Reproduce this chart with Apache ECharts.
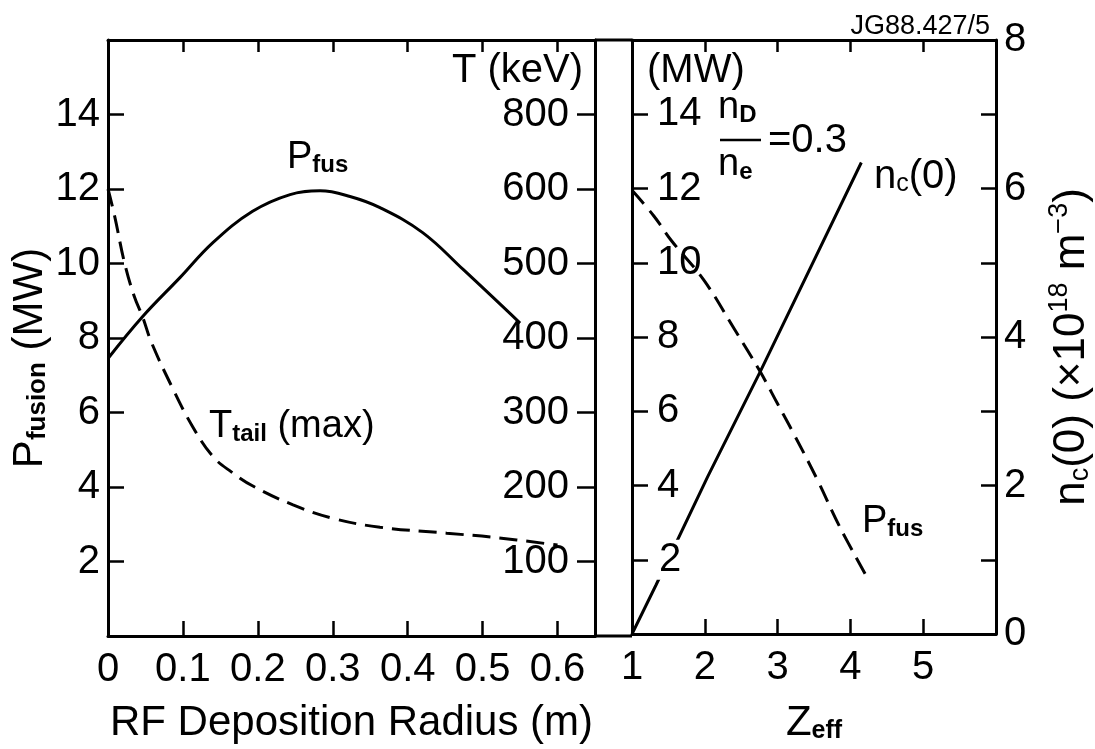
<!DOCTYPE html>
<html><head><meta charset="utf-8">
<script src="https://cdn.jsdelivr.net/npm/echarts@6/dist/echarts.min.js"></script>
<style>html,body{margin:0;padding:0;background:#fff}#c{width:1095px;height:749px}</style>
</head><body><div id="c"></div>
<script>
// ---------- data ----------
// Left panel: P_fusion (MW) vs RF deposition radius (m)
const RADIUS_PFUS = [0, 0.046, 0.096, 0.14, 0.193, 0.243, 0.283, 0.323, 0.363, 0.42, 0.474, 0.55];
const PFUS_VS_RADIUS = [7.45, 8.57, 9.62, 10.56, 11.4, 11.85, 11.95, 11.8, 11.5, 10.83, 9.84, 8.4];
// Left panel: T_tail (max) (keV) vs RF deposition radius (m)
const RADIUS_TTAIL = [0, 0.009, 0.022, 0.035, 0.046, 0.058, 0.087, 0.113, 0.14, 0.165, 0.194, 0.247, 0.3, 0.363, 0.452, 0.519, 0.6];
const TTAIL_VS_RADIUS = [600, 563, 501, 456, 429, 394, 331, 281, 241, 220, 201, 176, 158, 146, 138, 132, 122];
// Right panel: n_c(0) (x10^18 m^-3) vs Z_eff
const ZEFF_NC = [1, 1.33, 2.04, 2.76, 4.15];
const NC_VS_ZEFF = [0, 0.66, 2.12, 3.53, 6.35];
// Right panel: P_fus (MW) vs Z_eff
const ZEFF_PFUS = [1, 1.3, 1.54, 1.98, 2.41, 2.76, 3.0, 3.22, 3.54, 3.85, 4.22];
const PFUS_VS_ZEFF = [11.95, 11.26, 10.6, 9.55, 8.2, 7.07, 6.2, 5.4, 4.18, 2.9, 1.56];

// tick labels (as printed on the figure)
const RADIUS_TICK_LABELS = ['0', '0.1', '0.2', '0.3', '0.4', '0.5', '0.6'];
const MW_TICK_LABELS = ['', '2', '4', '6', '8', '10', '12', '14', ''];
const T_TICK_LABELS = ['', '100', '200', '300', '400', '500', '600', '800', ''];
const ZEFF_TICK_LABELS = ['1', '2', '3', '4', '5', ''];
const NC_TICK_LABELS = ['0', '', '2', '', '4', '', '6', '', '8'];

// ---------- chart ----------
const FONT = '"Liberation Sans", Arial, Helvetica, sans-serif';
const BLACK = '#000';
const zip = (xs, ys) => xs.map((x, i) => [x, ys[i]]);
const pick = (arr, v, step, start) => {
  const i = Math.round((v - start) / step);
  return (Math.abs(v - (start + i * step)) < 1e-6 && i >= 0 && i < arr.length) ? arr[i] : '';
};

const chart = echarts.init(document.getElementById('c'), null, {renderer: 'canvas'});

const axisLine = {show: true, onZero: false, lineStyle: {color: BLACK, width: 3}};
const tick = (len) => ({show: true, inside: true, length: len, lineStyle: {color: BLACK, width: 2.5}});
const lbl = (margin, fmt, extra) => Object.assign({show: true, inside: false, margin, fontSize: 40, color: BLACK, fontFamily: FONT, formatter: fmt}, extra || {});

const nameRich = {
  m: {fontSize: 42, lineHeight: 46, verticalAlign: 'bottom', color: BLACK, fontFamily: FONT},
  s: {fontSize: 25, lineHeight: 29, verticalAlign: 'bottom', fontWeight: 'bold', color: BLACK, fontFamily: FONT},
  p: {fontSize: 27, lineHeight: 27, verticalAlign: 'top', color: BLACK, fontFamily: FONT}
};

const xAxis = [
  {gridIndex: 0, type: 'value', position: 'bottom', min: 0, max: 0.65, interval: 0.1,
   axisLine, axisTick: tick(15), splitLine: {show: false},
   axisLabel: lbl(14, v => pick(RADIUS_TICK_LABELS, v, 0.1, 0)),
   name: '{m|RF Deposition Radius (m)}', nameLocation: 'middle', nameGap: 62,
   nameTextStyle: {rich: nameRich}},
  {gridIndex: 0, type: 'value', position: 'top', min: 0, max: 0.65, interval: 0.1,
   axisLine, axisTick: tick(12), splitLine: {show: false}, axisLabel: {show: false}},
  {gridIndex: 1, type: 'value', position: 'bottom', min: 1, max: 6, interval: 1,
   axisLine, axisTick: tick(15), splitLine: {show: false},
   axisLabel: lbl(14, v => pick(ZEFF_TICK_LABELS, v, 1, 1)),
   name: '{m|Z}{s|eff}', nameLocation: 'middle', nameGap: 64,
   nameTextStyle: {rich: nameRich}},
  {gridIndex: 1, type: 'value', position: 'top', min: 1, max: 6, interval: 1,
   axisLine, axisTick: tick(12), splitLine: {show: false}, axisLabel: {show: false}}
];

const yAxis = [
  {gridIndex: 0, type: 'value', position: 'left', min: 0, max: 16, interval: 2,
   axisLine, axisTick: tick(16), splitLine: {show: false},
   axisLabel: lbl(8, v => pick(MW_TICK_LABELS, v, 2, 0)),
   name: '{m|P}{s|fusion}{m| (MW)}', nameLocation: 'middle', nameRotate: 90, nameGap: 57,
   nameTextStyle: {rich: Object.assign({}, nameRich, {
     s: Object.assign({}, nameRich.s, {fontSize: 26, lineHeight: 30})}), padding: [0, 40, 0, 0]}},
  {gridIndex: 0, type: 'value', position: 'right', min: 0, max: 800, interval: 100,
   axisLine, axisTick: tick(18), splitLine: {show: false},
   axisLabel: lbl(26, v => pick(T_TICK_LABELS, v, 100, 0), {inside: true})},
  {gridIndex: 1, type: 'value', position: 'left', min: 0, max: 16, interval: 2, z: 5,
   axisLine, axisTick: tick(16), splitLine: {show: false},
   axisLabel: lbl(25, v => { const t = pick(MW_TICK_LABELS, v, 2, 0); return v === 2 ? '{w|' + t + '}' : t; },
     {inside: true, rich: {w: {fontSize: 40, color: BLACK, fontFamily: FONT, backgroundColor: '#fff', padding: [0, 2]}}})},
  {gridIndex: 1, type: 'value', position: 'right', min: 0, max: 8, interval: 1,
   axisLine, axisTick: tick(15), splitLine: {show: false},
   axisLabel: lbl(8, v => pick(NC_TICK_LABELS, v, 1, 0)),
   name: '{m|n}{s|c}{m|(0) (×10}{p|18}{m| m}{p|−3}{m|)}', nameLocation: 'middle', nameRotate: 90, nameGap: 50,
   nameTextStyle: {rich: Object.assign({}, nameRich, {
     m: Object.assign({}, nameRich.m, {fontSize: 44, lineHeight: 48}),
     s: Object.assign({}, nameRich.s, {fontSize: 27, lineHeight: 31, fontWeight: 'normal'})}), padding: [0, 20, 0, 0]}}
];

const lineSeries = (xi, yi, data, dashed, smooth) => ({
  type: 'line', xAxisIndex: xi, yAxisIndex: yi, data, smooth: smooth,
  showSymbol: false, symbol: 'none', silent: true, z: 3,
  lineStyle: {color: BLACK, width: 3, type: dashed ? [18, 9] : 'solid', cap: 'butt'}
});

const gRich = {
  m: {fontSize: 38, lineHeight: 44, verticalAlign: 'bottom', fill: BLACK, fontFamily: FONT},
  s: {fontSize: 24, lineHeight: 28, verticalAlign: 'bottom', fontWeight: 'bold', fill: BLACK, fontFamily: FONT},
  n: {fontSize: 25, lineHeight: 28, verticalAlign: 'bottom', fill: BLACK, fontFamily: FONT},
  h: {fontSize: 40, lineHeight: 44, verticalAlign: 'bottom', fill: BLACK, fontFamily: FONT},
  j: {fontSize: 27, lineHeight: 30, verticalAlign: 'bottom', fill: BLACK, fontFamily: FONT}
};
const gText = (x, y, text, align) => ({
  type: 'text', x, y, z: 100, silent: true,
  style: {text, rich: gRich, fill: BLACK, font: '38px ' + FONT,
          align: align || 'left', textAlign: align || 'left', verticalAlign: 'bottom', textVerticalAlign: 'bottom'}
});
const gLine = (x1, y1, x2, y2, w) => ({type: 'line', z: 100, silent: true, shape: {x1, y1, x2, y2}, style: {stroke: BLACK, lineWidth: w}});

const option = {
  animation: false,
  backgroundColor: '#fff',
  grid: [
    {left: 108, top: 40, width: 487, height: 596, containLabel: false},
    {left: 632, top: 40, width: 367, height: 596, containLabel: false}
  ],
  xAxis, yAxis,
  series: [
    lineSeries(0, 0, zip(RADIUS_PFUS, PFUS_VS_RADIUS), false, 0.4),
    lineSeries(0, 1, zip(RADIUS_TTAIL, TTAIL_VS_RADIUS), true, 0.4),
    lineSeries(2, 3, zip(ZEFF_NC, NC_VS_ZEFF), false, false),
    lineSeries(2, 2, zip(ZEFF_PFUS, PFUS_VS_ZEFF), true, 0.4)
  ],
  graphic: [
    gLine(595, 40, 632, 40, 3),
    gLine(595, 636, 632, 636, 3),
    gText(287, 177, '{m|P}{s|fus}'),
    gText(209, 446, '{m|T}{s|tail}{m| (max)}'),
    gText(452, 91, '{h|T (keV)}'),
    gText(647, 91, '{h|(MW)}'),
    gText(990, 40, '{j|JG88.427/5}', 'right'),
    gText(718, 127, '{m|n}{s|D}'),
    gLine(720, 140, 761, 140, 2.5),
    gText(718, 184, '{m|n}{s|e}'),
    gText(768, 161, '{h|=0.3}'),
    gText(874, 197, '{h|n}{n|c}{h|(0)}'),
    gText(862, 541, '{m|P}{s|fus}')
  ]
};
chart.setOption(option);
</script></body></html>
